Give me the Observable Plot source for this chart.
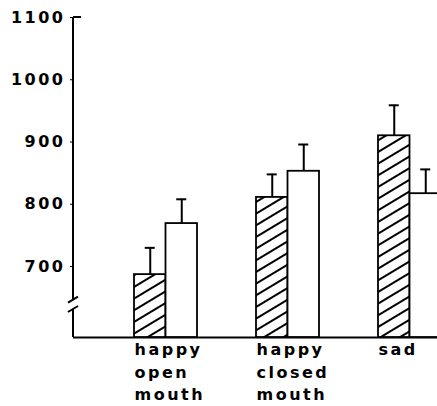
<!DOCTYPE html>
<html><head><meta charset="utf-8">
<script src="https://cdn.jsdelivr.net/npm/d3@7"></script>
<script src="https://cdn.jsdelivr.net/npm/@observablehq/plot@0.6"></script>
<style>html,body{margin:0;padding:0;background:#fff;overflow:hidden}</style>
</head><body><div id="chart"></div>
<script>
const categories = ["happy\nopen\nmouth", "happy\nclosed\nmouth", "sad"];
const hatchedMeans = [687, 811, 910];
const hatchedErrTop = [730, 848, 959];
const openMeans = [769, 853, 817];
const openErrTop = [808, 896, 856];
const yTicks = [700, 800, 900, 1000, 1100];
const yBase = 586;
const breakValues = [646, 631];

const hatched = categories.map((c, i) => ({cat: c, mean: hatchedMeans[i], err: hatchedErrTop[i]}));
const open = categories.map((c, i) => ({cat: c, mean: openMeans[i], err: openErrTop[i]}));

const W = 437, H = 406, mL = 73, mT = 17, mB = 69;
const bw = 63, half = bw / 2, q = bw / 4, capHalf = 5;

const plot = Plot.plot({
  width: W, height: H,
  marginLeft: mL, marginRight: 0, marginTop: mT, marginBottom: mB,
  style: {fontFamily: "DejaVu Sans", fontSize: "16px", fontWeight: "bold", background: "white", color: "black", letterSpacing: "2.5px"},
  x: {domain: categories, range: [74, 501], padding: 0.486, axis: null},
  y: {domain: [yBase, 1100], ticks: yTicks, tickSize: 3, tickPadding: 5, label: null, tickFormat: d => String(d)},
  marks: [
    Plot.ruleY([yBase], {stroke: "black", strokeWidth: 2}),
    Plot.barY(hatched, {x: "cat", y1: yBase, y2: "mean", fill: "url(#hatch)", stroke: "black", strokeWidth: 1.8, insetRight: half}),
    Plot.barY(open, {x: "cat", y1: yBase, y2: "mean", fill: "white", stroke: "black", strokeWidth: 1.8, insetLeft: half}),
    Plot.ruleX(hatched, {x: "cat", y1: "mean", y2: "err", dx: -q, stroke: "black", strokeWidth: 2}),
    Plot.ruleX(open, {x: "cat", y1: "mean", y2: "err", dx: q, stroke: "black", strokeWidth: 2}),
    Plot.tickY(hatched, {x: "cat", y: "err", insetLeft: q - capHalf, insetRight: bw - q - capHalf, stroke: "black", strokeWidth: 2}),
    Plot.tickY(open, {x: "cat", y: "err", insetLeft: bw - q - capHalf, insetRight: q - capHalf, stroke: "black", strokeWidth: 2}),
    Plot.text(categories, {x: d => d, frameAnchor: "bottom", textAnchor: "start", lineAnchor: "top", dx: -half, dy: 2, lineHeight: 1.4, fill: "black"})
  ]
});

const svg = d3.select(plot);
const defs = svg.insert("defs", ":first-child");
const pat = defs.append("pattern").attr("id", "hatch").attr("patternUnits", "userSpaceOnUse")
  .attr("width", 10).attr("height", 10).attr("patternTransform", "rotate(-31)");
pat.append("rect").attr("width", 10).attr("height", 10).attr("fill", "white");
pat.append("line").attr("x1", 0).attr("x2", 10).attr("y1", 5).attr("y2", 5).attr("stroke", "black").attr("stroke-width", 2);

const y = plot.scale("y");
const g = svg.append("g").attr("stroke", "black").attr("fill", "none");
const ax = mL;
g.append("line").attr("x1", ax).attr("x2", ax).attr("y1", y.apply(1100)).attr("y2", y.apply(breakValues[0])).attr("stroke-width", 2);
g.append("line").attr("x1", ax).attr("x2", ax).attr("y1", y.apply(breakValues[1])).attr("y2", y.apply(yBase)).attr("stroke-width", 2);
g.append("line").attr("x1", ax).attr("x2", ax + 8).attr("y1", y.apply(1100)).attr("y2", y.apply(1100)).attr("stroke-width", 2);
for (const v of breakValues) {
  const yy = y.apply(v);
  g.append("line").attr("x1", ax - 5).attr("x2", ax + 5).attr("y1", yy + 3).attr("y2", yy - 3).attr("stroke-width", 2);
}
document.getElementById("chart").append(plot);
</script>
</body></html>
